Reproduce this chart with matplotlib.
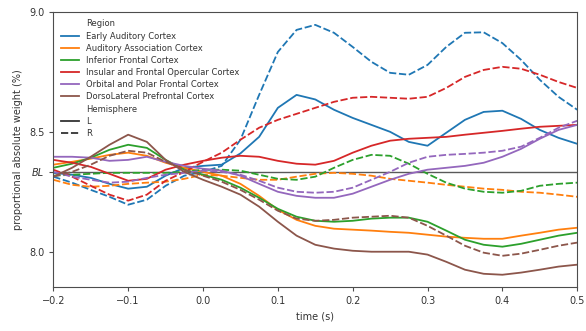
import matplotlib
matplotlib.use("Agg")
import matplotlib.pyplot as plt
from matplotlib.lines import Line2D

# time axis (s)
time = [-0.2, -0.175, -0.15, -0.125, -0.1, -0.075, -0.05, -0.025, 0.0,
        0.025, 0.05, 0.075, 0.1, 0.125, 0.15, 0.175, 0.2, 0.225, 0.25,
        0.275, 0.3, 0.325, 0.35, 0.375, 0.4, 0.425, 0.45, 0.475, 0.5]

regions = ["Early Auditory Cortex", "Auditory Association Cortex",
           "Inferior Frontal Cortex", "Insular and Frontal Opercular Cortex",
           "Orbital and Polar Frontal Cortex", "DorsoLateral Prefrontal Cortex"]
hemispheres = ["L", "R"]

baseline = 8.333  # 100 / 12 regions

early_aud_L = [8.329, 8.321, 8.308, 8.283, 8.263, 8.271, 8.317, 8.35, 8.358,
               8.363, 8.41, 8.479, 8.60, 8.654, 8.635, 8.592, 8.558, 8.529, 8.5,
               8.458, 8.442, 8.496, 8.55, 8.583, 8.588, 8.554, 8.508, 8.475, 8.45]
early_aud_R = [8.313, 8.288, 8.258, 8.229, 8.196, 8.217, 8.275, 8.317, 8.333,
               8.358, 8.467, 8.654, 8.833, 8.925, 8.946, 8.913, 8.854, 8.792, 8.746,
               8.738, 8.779, 8.854, 8.913, 8.915, 8.87, 8.80, 8.717, 8.646, 8.592]
aud_assoc_L = [8.363, 8.375, 8.388, 8.404, 8.413, 8.40, 8.371, 8.35, 8.333,
               8.317, 8.283, 8.233, 8.175, 8.133, 8.108, 8.096, 8.092, 8.088, 8.083,
               8.079, 8.071, 8.063, 8.058, 8.054, 8.054, 8.067, 8.079, 8.092, 8.10]
aud_assoc_R = [8.30, 8.279, 8.271, 8.275, 8.283, 8.288, 8.292, 8.304, 8.321,
               8.317, 8.308, 8.30, 8.30, 8.313, 8.325, 8.329, 8.325, 8.317, 8.304,
               8.296, 8.288, 8.279, 8.271, 8.263, 8.258, 8.25, 8.246, 8.238, 8.229]
inf_front_L = [8.35, 8.367, 8.392, 8.425, 8.446, 8.433, 8.383, 8.342, 8.321,
               8.30, 8.267, 8.225, 8.179, 8.146, 8.129, 8.125, 8.129, 8.138, 8.142,
               8.142, 8.125, 8.088, 8.05, 8.029, 8.021, 8.033, 8.05, 8.067, 8.079]
inf_front_R = [8.317, 8.321, 8.325, 8.329, 8.329, 8.329, 8.329, 8.333, 8.342,
               8.342, 8.338, 8.321, 8.304, 8.30, 8.313, 8.35, 8.383, 8.404, 8.40,
               8.367, 8.325, 8.288, 8.263, 8.25, 8.246, 8.254, 8.275, 8.283, 8.288]
insular_L = [8.383, 8.371, 8.354, 8.325, 8.296, 8.304, 8.342, 8.363, 8.379,
             8.392, 8.40, 8.396, 8.379, 8.367, 8.363, 8.379, 8.413, 8.442, 8.463,
             8.471, 8.475, 8.479, 8.488, 8.496, 8.504, 8.513, 8.521, 8.525, 8.529]
insular_R = [8.342, 8.313, 8.275, 8.238, 8.213, 8.238, 8.296, 8.333, 8.375,
             8.413, 8.467, 8.517, 8.55, 8.575, 8.60, 8.625, 8.642, 8.646, 8.642,
             8.638, 8.646, 8.683, 8.729, 8.758, 8.771, 8.763, 8.738, 8.708, 8.683]
orbital_L = [8.396, 8.396, 8.392, 8.379, 8.383, 8.396, 8.375, 8.358, 8.346,
             8.338, 8.317, 8.283, 8.25, 8.233, 8.225, 8.225, 8.242, 8.271, 8.30,
             8.325, 8.342, 8.35, 8.358, 8.371, 8.396, 8.429, 8.471, 8.508, 8.529]
orbital_R = [8.333, 8.313, 8.30, 8.288, 8.292, 8.308, 8.321, 8.329, 8.338,
             8.333, 8.321, 8.296, 8.267, 8.25, 8.246, 8.25, 8.267, 8.30, 8.333,
             8.371, 8.396, 8.404, 8.408, 8.413, 8.421, 8.438, 8.475, 8.517, 8.546]
dlpfc_L = [8.313, 8.35, 8.396, 8.446, 8.488, 8.458, 8.383, 8.333, 8.30,
           8.271, 8.238, 8.188, 8.125, 8.067, 8.029, 8.013, 8.004, 8.0, 8.0,
           8.0, 7.988, 7.958, 7.925, 7.908, 7.904, 7.913, 7.925, 7.938, 7.946]
dlpfc_R = [8.313, 8.333, 8.363, 8.40, 8.421, 8.413, 8.375, 8.342, 8.317,
           8.292, 8.258, 8.217, 8.171, 8.138, 8.129, 8.133, 8.142, 8.146, 8.15,
           8.142, 8.108, 8.067, 8.025, 7.996, 7.983, 7.992, 8.008, 8.025, 8.038]

series = {
    regions[0]: (early_aud_L, early_aud_R),
    regions[1]: (aud_assoc_L, aud_assoc_R),
    regions[2]: (inf_front_L, inf_front_R),
    regions[3]: (insular_L, insular_R),
    regions[4]: (orbital_L, orbital_R),
    regions[5]: (dlpfc_L, dlpfc_R),
}
colors = ["tab:blue", "tab:orange", "tab:green", "tab:red", "tab:purple", "tab:brown"]
dash_R = (4, 1.5)
lw = 1.3

fig = plt.figure(figsize=(5.86, 3.31), dpi=100)
ax = fig.add_axes([0.091, 0.133, 0.894, 0.831])

ax.axhline(baseline, color="0.35", lw=1.0, zorder=1)

for reg, col in zip(regions, colors):
    left, right = series[reg]
    ax.plot(time, left, color=col, lw=lw, solid_joinstyle="round")
    ax.plot(time, right, color=col, lw=lw, dashes=dash_R)

ax.set_xlim(-0.2, 0.5)
ax.set_ylim(7.853, 9.0)
ax.set_yticks([8.0, baseline, 8.5, 9.0])
ax.set_yticklabels(["8.0", "BL", "8.5", "9.0"])
ax.get_yticklabels()[1].set_fontstyle("italic")
ax.tick_params(labelsize=7, length=3, width=0.8, color="0.3", labelcolor="0.2")
for sp in ax.spines.values():
    sp.set_color("0.3")
    sp.set_linewidth(0.8)

ax.set_xlabel("time (s)", fontsize=7, color="0.2")
ax.set_ylabel("proportional absolute weight (%)", fontsize=7, color="0.2")

# legend in seaborn style: header rows with empty handles
blank = Line2D([], [], color="none")
handles = [blank] + [Line2D([], [], color=c, lw=lw) for c in colors]
labels = ["Region"] + regions
handles += [blank, Line2D([], [], color="0.2", lw=lw),
            Line2D([], [], color="0.2", lw=lw, dashes=dash_R)]
labels += ["Hemisphere"] + hemispheres
leg = ax.legend(handles, labels, loc="upper left", frameon=False, fontsize=6,
                labelspacing=0.38, handlelength=2.2, handletextpad=0.8,
                borderaxespad=0.5)
for t in leg.get_texts():
    t.set_color("0.2")

fig.savefig("out.png", dpi=100)
